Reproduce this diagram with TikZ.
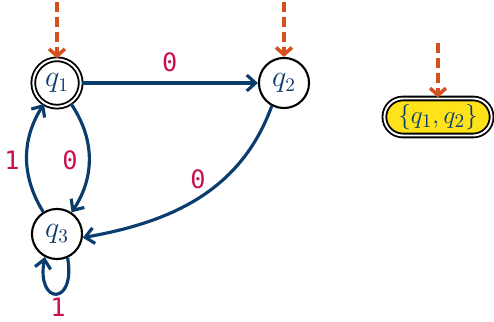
\documentclass[tikz,border=0pt]{standalone}
\usepackage{fontspec}
\newfontfamily\labfont{DejaVu Sans Mono}
\usetikzlibrary{arrows.meta}
\definecolor{edgeblue}{HTML}{0B3C6E}
\definecolor{labred}{HTML}{C8104E}
\definecolor{initorange}{HTML}{D4501E}
\definecolor{stateyellow}{HTML}{FFE21A}
\tikzset{
  state/.style={circle,draw=black,line width=1.2pt,minimum size=28.5pt,inner sep=0pt,font=\fontsize{16}{18}\selectfont,text=edgeblue},
  accstate/.style={state,line width=1.05pt,double=white,double distance=1.1pt,minimum size=27pt},
  tr/.style={draw=edgeblue,line width=1.8pt,-{Straight Barb[length=5pt,width=9pt]}},
  initarr/.style={draw=initorange,line width=2pt,dash pattern=on 5.5pt off 3pt,-{Straight Barb[length=4pt,width=9pt]}},
  lab/.style={font=\labfont\Large,text=labred},
  setstate/.style={rectangle,rounded corners=10.5pt,fill=stateyellow,draw=black,line width=1.05pt,double=white,double distance=1.1pt,minimum width=61pt,minimum height=19.5pt,inner xsep=4pt,font=\fontsize{15}{18}\selectfont,text=edgeblue}
}
\begin{document}
\begin{tikzpicture}[x=0.569pt,y=-0.569pt]
\useasboundingbox (0,0) rectangle (494,322);
\node[accstate] (q1) at (57,83) {$q_1$};
\node[state] (q2) at (284,83) {$q_2$};
\node[state] (q3) at (57,234) {$q_3$};
\node[setstate] (s) at (438,117) {$\{q_1,q_2\}$};
\coordinate (i1) at (57,2);
\coordinate (i2) at (284,2);
\coordinate (i3) at (438,43);
\draw[initarr] (i1) -- (q1);
\draw[initarr] (i2) -- (q2);
\draw[initarr] (i3) -- (s);
\draw[tr] (q1) -- node[lab,above=2pt] {0} (q2);
\draw[tr] (q1) to[bend left=34] (q3);
\node[lab] at (70,160) {0};
\draw[tr] (q3) to[bend left=32] (q1);
\node[lab] at (12,160) {1};
\draw[tr] (q2.-118) to[out=-110,in=10] (q3.-8);
\node[lab] at (198,179) {0};
\draw[tr] (q3.-66) to[out=-80,in=-100,looseness=5.5] (q3.-118);
\node[lab] at (58,307) {1};
\end{tikzpicture}
\end{document}
